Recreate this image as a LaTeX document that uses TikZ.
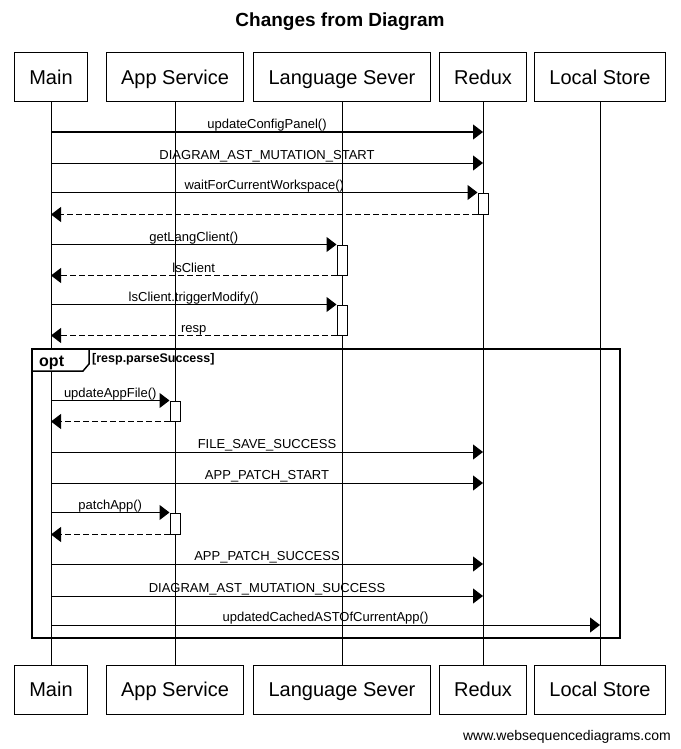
\documentclass[tikz,border=0pt]{standalone}
\usepackage{fontspec}
\setmainfont{Liberation Sans}
\usetikzlibrary{arrows.meta, positioning}

\begin{document}
\begin{tikzpicture}[x=1pt, y=-1pt,
  every node/.style={inner sep=0pt},
  actor/.style={draw, line width=1pt, fill=white, minimum height=49pt,
    inner xsep=15pt, text height=14.3pt, text depth=0pt,
    font=\fontsize{20}{24}\selectfont},
  actbox/.style={draw, line width=1pt, fill=white, minimum width=10pt},
  lifeline/.style={line width=1pt},
  msgline/.style={line width=1pt, -{Triangle[length=10pt, width=15pt]}},
  retline/.style={msgline, dash pattern=on 6pt off 3pt},
  msglabel/.style={anchor=base, yshift=3.5pt, font=\fontsize{13}{15}\selectfont}
]
  \useasboundingbox (0,0) rectangle (680,749);

  % Title
  \node[font=\fontsize{19}{23}\selectfont\bfseries] (title) at (340,22) {Changes from Diagram};

  % Participants (top and bottom)
  \node[actor] (mainTop)  at (51,77.5)  {Main};
  \node[actor] (appTop)   at (175,77.5) {App Service};
  \node[actor] (langTop)  at (342,77.5) {Language Sever};
  \node[actor] (reduxTop) at (483,77.5) {Redux};
  \node[actor] (storeTop) at (600,77.5) {Local Store};

  \node[actor] (mainBot)  at (51,689.5)  {Main};
  \node[actor] (appBot)   at (175,689.5) {App Service};
  \node[actor] (langBot)  at (342,689.5) {Language Sever};
  \node[actor] (reduxBot) at (483,689.5) {Redux};
  \node[actor] (storeBot) at (600,689.5) {Local Store};

  % Lifelines
  \draw[lifeline] (mainTop) -- (mainBot);
  \draw[lifeline] (appTop) -- (appBot);
  \draw[lifeline] (langTop) -- (langBot);
  \draw[lifeline] (reduxTop) -- (reduxBot);
  \draw[lifeline] (storeTop) -- (storeBot);

  % Activation boxes
  \node[actbox, minimum height=21pt] (reduxAct) at (reduxTop |- 0,203.5) {};
  \node[actbox, minimum height=30pt] (langAct1) at (langTop |- 0,260) {};
  \node[actbox, minimum height=30pt] (langAct2) at (langTop |- 0,320) {};
  \node[actbox, minimum height=20pt] (appAct1)  at (appTop |- 0,411) {};
  \node[actbox, minimum height=21pt] (appAct2)  at (appTop |- 0,523.5) {};

  % Messages
  \draw[msgline] (mainTop |- 0,132) -- node[msglabel] {updateConfigPanel()} (reduxTop |- 0,132);
  \draw[msgline] (mainTop |- 0,163) -- node[msglabel] {DIAGRAM\_AST\_MUTATION\_START} (reduxTop |- 0,163);
  \draw[msgline] (mainTop |- reduxAct.north) -- node[msglabel] {waitForCurrentWorkspace()} (reduxAct.north west);
  \draw[retline] (reduxAct.south west) -- (mainTop |- reduxAct.south);
  \draw[msgline] (mainTop |- langAct1.north) -- node[msglabel] {getLangClient()} (langAct1.north west);
  \draw[retline] (langAct1.south west) -- node[msglabel] {lsClient} (mainTop |- langAct1.south);
  \draw[msgline] (mainTop |- langAct2.north) -- node[msglabel] {lsClient.triggerModify()} (langAct2.north west);
  \draw[retline] (langAct2.south west) -- node[msglabel] {resp} (mainTop |- langAct2.south);

  % opt fragment
  \draw[line width=2pt] (32,349) rectangle (620,638);
  \draw[line width=1.5pt, fill=white] (32,349) -- (89,349) -- (89,364) -- (83,371) -- (32,371) -- cycle;
  \node[font=\fontsize{16}{19}\selectfont\bfseries, anchor=base west] (optLabel) at (39,366) {opt};
  \node[font=\fontsize{12.5}{15}\selectfont\bfseries, anchor=base west] (optCond) at (92,362) {[resp.parseSuccess]};

  \draw[msgline] (mainTop |- appAct1.north) -- node[msglabel] {updateAppFile()} (appAct1.north west);
  \draw[retline] (appAct1.south west) -- (mainTop |- appAct1.south);
  \draw[msgline] (mainTop |- 0,452) -- node[msglabel] {FILE\_SAVE\_SUCCESS} (reduxTop |- 0,452);
  \draw[msgline] (mainTop |- 0,483) -- node[msglabel] {APP\_PATCH\_START} (reduxTop |- 0,483);
  \draw[msgline] (mainTop |- appAct2.north) -- node[msglabel] {patchApp()} (appAct2.north west);
  \draw[retline] (appAct2.south west) -- (mainTop |- appAct2.south);
  \draw[msgline] (mainTop |- 0,564) -- node[msglabel] {APP\_PATCH\_SUCCESS} (reduxTop |- 0,564);
  \draw[msgline] (mainTop |- 0,596) -- node[msglabel] {DIAGRAM\_AST\_MUTATION\_SUCCESS} (reduxTop |- 0,596);
  \draw[msgline] (mainTop |- 0,625) -- node[msglabel] {updatedCachedASTOfCurrentApp()} (storeTop |- 0,625);

  % Footer
  \node[font=\fontsize{14}{17}\selectfont, anchor=base east] (footer) at (671,740) {www.websequencediagrams.com};
\end{tikzpicture}
\end{document}
